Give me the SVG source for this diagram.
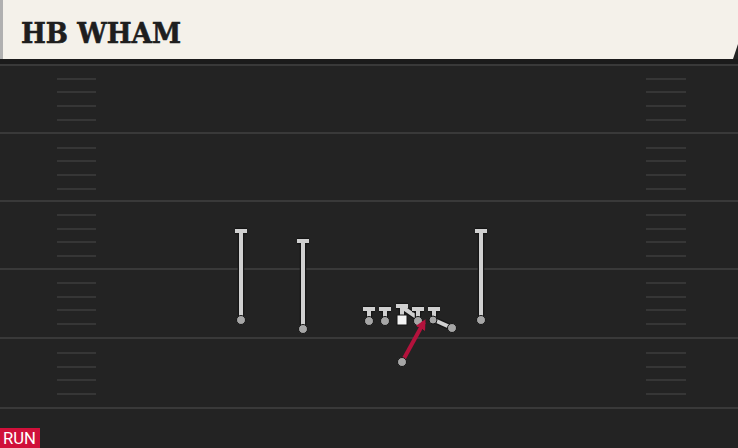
<svg xmlns="http://www.w3.org/2000/svg" width="738" height="448" viewBox="0 0 738 448">
<defs>
<style>
.fl{stroke:#393939;stroke-width:2}
.hs{stroke:#363636;stroke-width:2}
.po{stroke:#161616;stroke-width:6.5;fill:none}
.pi{stroke:#d0d0d0;stroke-width:4;fill:none}
.dot{fill:#a6a6a6;stroke:#161616;stroke-width:1}
.run{stroke:#b3123c;stroke-width:4;fill:none}
</style>
<marker id="ah" viewBox="0 0 10 10" refX="7" refY="5" markerWidth="2.6" markerHeight="2.6" orient="auto">
<path d="M0,0 L10,5 L0,10 z" fill="#b3123c"/>
</marker>
</defs>
<rect width="738" height="448" fill="#232323"/>
<g id="field">
<rect x="0" y="59" width="738" height="6" fill="#1b1b1b"/>
<line class="fl" x1="0" y1="65" x2="738" y2="65"/>
<line class="fl" x1="0" y1="133" x2="738" y2="133"/>
<line class="fl" x1="0" y1="201" x2="738" y2="201"/>
<line class="fl" x1="0" y1="269" x2="738" y2="269"/>
<line class="fl" x1="0" y1="338" x2="738" y2="338"/>
<line class="fl" x1="0" y1="408" x2="738" y2="408"/>
<g id="hashes-left">
<path class="hs" d="M57 79H96M57 92H96M57 106H96M57 120H96M57 148H96M57 161H96M57 175H96M57 189H96M57 215H96M57 229H96M57 242H96M57 256H96M57 283H96M57 297H96M57 310H96M57 324H96M57 353H96M57 367H96M57 380H96M57 394H96"/>
</g>
<g id="hashes-right">
<path class="hs" d="M646 79H686M646 92H686M646 106H686M646 120H686M646 148H686M646 161H686M646 175H686M646 189H686M646 215H686M646 229H686M646 242H686M646 256H686M646 283H686M646 297H686M646 310H686M646 324H686M646 353H686M646 367H686M646 380H686M646 394H686"/>
</g>
</g>
<g id="header">
<path d="M0 0H738V44L733 59H0Z" fill="#f4f1ea"/>
<rect x="0" y="0" width="3" height="59" fill="#b0b0b0"/>
<text x="21" y="43" font-family="DejaVu Serif, serif" font-weight="bold" font-size="28" fill="#1e1e1e" stroke="#1e1e1e" stroke-width="0.6" textLength="160" lengthAdjust="spacingAndGlyphs">HB WHAM</text>
</g>
<g id="wr-left">
<path class="po" d="M241 320V231M235 231H247"/>
<path class="pi" d="M241 320V231M235 231H247"/>
<circle class="dot" cx="241" cy="320" r="4.5"/>
</g>
<g id="wr-slot">
<path class="po" d="M303 329V241M297 241H309"/>
<path class="pi" d="M303 329V241M297 241H309"/>
<circle class="dot" cx="303" cy="329" r="4.5"/>
</g>
<g id="wr-right">
<path class="po" d="M481 320V231M475 231H487"/>
<path class="pi" d="M481 320V231M475 231H487"/>
<circle class="dot" cx="481" cy="320" r="4.5"/>
</g>
<g id="lt">
<path class="po" d="M369 320V309M363 309H375"/>
<path class="pi" d="M369 320V309M363 309H375"/>
<circle class="dot" cx="369" cy="321" r="4.5"/>
</g>
<g id="lg">
<path class="po" d="M385 320V309M379 309H391"/>
<path class="pi" d="M385 320V309M379 309H391"/>
<circle class="dot" cx="385" cy="321" r="4.5"/>
</g>
<g id="c">
<path class="po" d="M402 318V306M396 306H408M402 307L418 318"/>
<path class="pi" d="M402 318V306M396 306H408M402 307L418 318"/>
<rect x="397" y="315" width="10" height="10" fill="#f4f4f4" stroke="#161616" stroke-width="1"/>
</g>
<g id="rg">
<path class="po" d="M418 320V309M412 309H424"/>
<path class="pi" d="M418 320V309M412 309H424"/>
<circle class="dot" cx="418" cy="321" r="4.5"/>
</g>
<g id="rt">
<path class="po" d="M434 320V309M428 309H440"/>
<path class="pi" d="M434 320V309M428 309H440"/>
</g>
<g id="te">
<path class="po" d="M452 328L432 319"/>
<path class="pi" d="M452 328L432 319"/>
<circle class="dot" cx="452" cy="328" r="4.5"/>
<circle class="dot" cx="433" cy="320" r="4"/>
</g>
<g id="connectors">
<line class="run" x1="402" y1="362" x2="424" y2="322" marker-end="url(#ah)"/>
</g>
<g id="hb">
<circle class="dot" cx="402" cy="362" r="4.5"/>
</g>
<g id="tag">
<rect x="0" y="428" width="40" height="20" fill="#d0103a"/>
<text x="3" y="444" font-family="Roboto, Liberation Sans, sans-serif" font-size="16" fill="#ffffff" textLength="33" lengthAdjust="spacingAndGlyphs">RUN</text>
</g>
</svg>
